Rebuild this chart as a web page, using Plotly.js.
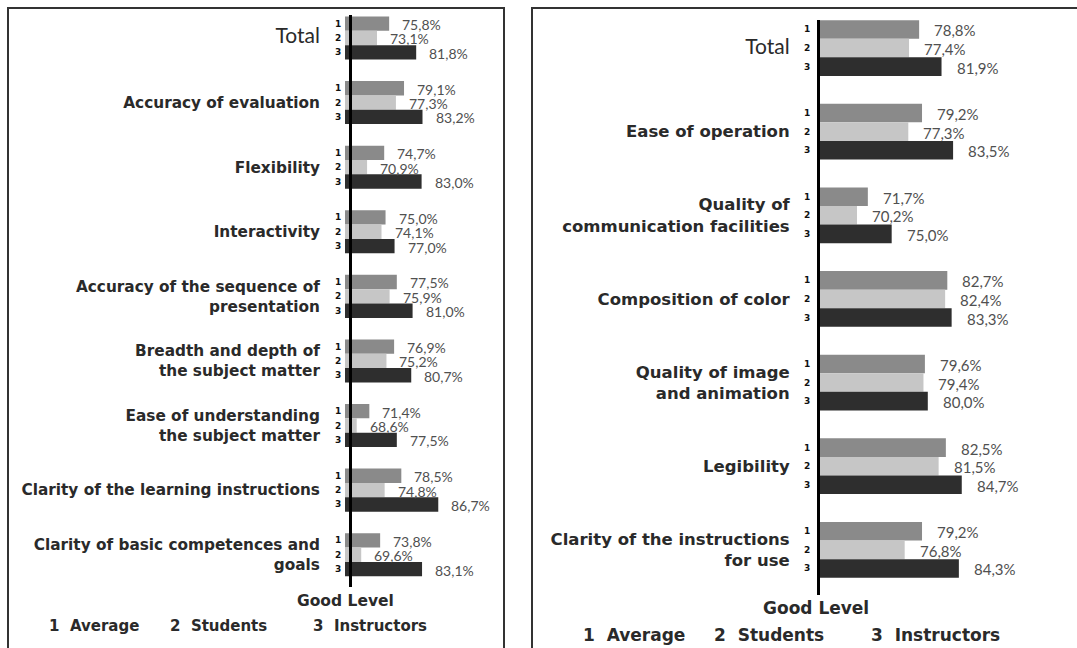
<!DOCTYPE html>
<html>
<head>
<meta charset="utf-8">
<script src="https://cdn.plot.ly/plotly-3.0.1.min.js"></script>
<style>
  html, body { margin: 0; padding: 0; background: #fff; }
  #chart { width: 1077px; height: 648px; }
</style>
</head>
<body>
<div id="chart"></div>
<script>
// ---------- DATA ----------
const leftCategories = [
  "Total",
  "Accuracy of evaluation",
  "Flexibility",
  "Interactivity",
  "Accuracy of the sequence of<br>presentation",
  "Breadth and depth of<br>the subject matter",
  "Ease of understanding<br>the subject matter",
  "Clarity of the learning instructions",
  "Clarity of basic competences and<br>goals"
];
const leftAverage     = [75.8, 79.1, 74.7, 75.0, 77.5, 76.9, 71.4, 78.5, 73.8];
const leftStudents    = [73.1, 77.3, 70.9, 74.1, 75.9, 75.2, 68.6, 74.8, 69.6];
const leftInstructors = [81.8, 83.2, 83.0, 77.0, 81.0, 80.7, 77.5, 86.7, 83.1];

const rightCategories = [
  "Total",
  "Ease of operation",
  "Quality of<br>communication facilities",
  "Composition of color",
  "Quality of image<br>and animation",
  "Legibility",
  "Clarity of the instructions<br>for use"
];
const rightAverage     = [78.8, 79.2, 71.7, 82.7, 79.6, 82.5, 79.2];
const rightStudents    = [77.4, 77.3, 70.2, 82.4, 79.4, 81.5, 76.8];
const rightInstructors = [81.9, 83.5, 75.0, 83.3, 80.0, 84.7, 84.3];

const seriesNames = ["Average", "Students", "Instructors"];
const seriesDigits = ["1", "2", "3"];
const axisTitle = "Good Level";

// ---------- STYLE ----------
const W = 1077, H = 648;
const colors = ["#8a8a8a", "#c6c6c6", "#2e2e2e"];
const bargap = 0.333;
const barW = (1 - bargap) / 3;
const labelFont = "DejaVu Sans, Verdana, sans-serif";
const numFont = "Lato, Carlito, sans-serif";

const panels = [
  {
    cats: leftCategories, vals: [leftAverage, leftStudents, leftInstructors],
    xa: "x", ya: "y", xaxis: "xaxis", yaxis: "yaxis",
    xpx: [345, 500], ypx: [15, 587], xrange: [66.0, 100.4], yextra: [-0.356, 8.5],
    linePx: 350, tickSize: 15.3, totalSize: 21, numSize: 14, digitShift: -7, valShift: 11,
    standoff: 26
  },
  {
    cats: rightCategories, vals: [rightAverage, rightStudents, rightInstructors],
    xa: "x2", ya: "y2", xaxis: "xaxis2", yaxis: "yaxis2",
    xpx: [818, 1060], ypx: [20, 595], xrange: [64.8, 98.3], yextra: [-0.335, 6.54],
    linePx: 818, tickSize: 16.5, totalSize: 21, numSize: 15, digitShift: -11, valShift: 13,
    standoff: 24
  }
];

const fmt = v => v.toFixed(1).replace(".", ",") + "%";

const traces = [];
const annotations = [];
const layout = {
  width: W, height: H,
  margin: {l: 0, r: 0, t: 0, b: 0},
  paper_bgcolor: "#ffffff",
  plot_bgcolor: "rgba(0,0,0,0)",
  barmode: "group",
  bargap: bargap,
  bargroupgap: 0,
  showlegend: false,
  annotations: annotations,
  shapes: [
    {type: "rect", xref: "paper", yref: "paper", x0: 8 / W, x1: 504 / W, y0: -0.05, y1: 1 - 8 / H,
     line: {color: "#333", width: 2}, fillcolor: "rgba(0,0,0,0)"},
    {type: "rect", xref: "paper", yref: "paper", x0: 532 / W, x1: 1.05, y0: -0.05, y1: 1 - 8 / H,
     line: {color: "#333", width: 2}, fillcolor: "rgba(0,0,0,0)"}
  ]
};

panels.forEach((p, pi) => {
  const idx = p.cats.map((c, i) => i);
  p.vals.forEach((vals, k) => {
    traces.push({
      type: "bar", orientation: "h",
      x: vals, y: idx,
      name: seriesNames[k],
      xaxis: p.xa, yaxis: p.ya,
      marker: {color: colors[k], line: {width: 0}},
      hoverinfo: "skip"
    });
    vals.forEach((v, i) => {
      const yy = i + (k - 1) * barW;
      annotations.push({
        xref: p.xa, yref: p.ya, x: v, y: yy,
        text: fmt(v), showarrow: false, xanchor: "left", yanchor: "middle",
        xshift: p.valShift, yshift: -1,
        font: {family: numFont, size: p.numSize, color: "#505050"}
      });
      annotations.push({
        xref: p.xa, yref: p.ya, x: p.xrange[0], y: yy,
        text: seriesDigits[k], showarrow: false, xanchor: "center", yanchor: "middle",
        xshift: p.digitShift,
        font: {family: labelFont, size: 9, color: "#111", weight: "bold"}
      });
    });
  });

  const ticktext = p.cats.map(c => c === "Total"
    ? '<span style="font-family:Lato, sans-serif;font-size:' + p.totalSize + 'px;font-weight:normal;">' + c + '</span>'
    : c);

  layout[p.xaxis] = {
    domain: [p.xpx[0] / W, p.xpx[1] / W],
    range: p.xrange,
    anchor: p.ya,
    showgrid: false, zeroline: false, showticklabels: false, ticks: "", showline: false,
    fixedrange: true
  };
  layout[p.yaxis] = {
    domain: [1 - p.ypx[1] / H, 1 - p.ypx[0] / H],
    range: [p.yextra[1], p.yextra[0]],
    anchor: "free",
    position: p.linePx / W,
    tickvals: idx, ticktext: ticktext,
    tickfont: {family: labelFont, size: p.tickSize, color: "#2a2a2a", weight: "bold"},
    ticks: "", ticklabelstandoff: p.standoff,
    showgrid: false, zeroline: false,
    showline: true, linecolor: "#000", linewidth: 3,
    fixedrange: true
  };
});

// "Good Level" labels and legends
annotations.push({xref: "paper", yref: "paper", x: 345 / W, y: 1 - 601 / H, text: axisTitle,
  showarrow: false, xanchor: "center", yanchor: "middle",
  font: {family: labelFont, size: 15.5, color: "#2a2a2a", weight: "bold"}});
annotations.push({xref: "paper", yref: "paper", x: 816 / W, y: 1 - 608 / H, text: axisTitle,
  showarrow: false, xanchor: "center", yanchor: "middle",
  font: {family: labelFont, size: 17, color: "#2a2a2a", weight: "bold"}});

const legLeftX = [47, 168, 311];
const legRightX = [581, 712, 869];
seriesNames.forEach((n, k) => {
  annotations.push({xref: "paper", yref: "paper", x: legLeftX[k] / W, y: 1 - 626 / H,
    text: seriesDigits[k] + "  " + n, showarrow: false, xanchor: "left", yanchor: "middle",
    font: {family: labelFont, size: 15, color: "#2a2a2a", weight: "bold"}});
  annotations.push({xref: "paper", yref: "paper", x: legRightX[k] / W, y: 1 - 635 / H,
    text: seriesDigits[k] + "  " + n, showarrow: false, xanchor: "left", yanchor: "middle",
    font: {family: labelFont, size: 17, color: "#2a2a2a", weight: "bold"}});
});

Plotly.newPlot("chart", traces, layout, {staticPlot: true, displayModeBar: false});
</script>
</body>
</html>
